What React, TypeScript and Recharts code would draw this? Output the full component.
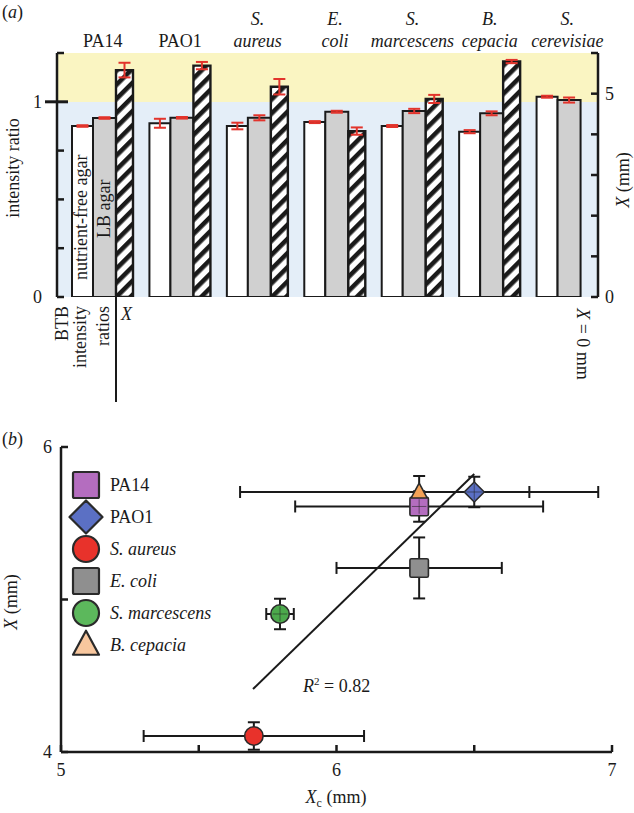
import React from 'react'
import {
  BarChart,
  Bar,
  XAxis,
  YAxis,
  ErrorBar,
  CartesianGrid,
  ScatterChart,
  Scatter,
  Legend,
} from 'recharts'

const FONT = '"Liberation Serif", "Times New Roman", serif'
const INK = '#1a1a1a'
const RED = '#e2342c'
const FS = 18

// ---- panel (a): BTB intensity ratios and X per organism
const groups = ['PA14', 'PAO1', 'S. aureus', 'E. coli', 'S. marcescens', 'B. cepacia', 'S. cerevisiae']
const groupLine1 = ['', '', 'S.', 'E.', 'S.', 'B.', 'S.']
const groupLine2 = ['PA14', 'PAO1', 'aureus', 'coli', 'marcescens', 'cepacia', 'cerevisiae']
const groupItalic = [false, false, true, true, true, true, true]

const nutrientFree = [0.876, 0.89, 0.876, 0.896, 0.876, 0.847, 1.026]
const nutrientFreeErr = [0.004, 0.023, 0.017, 0.005, 0.005, 0.008, 0.005]
const lbAgar = [0.917, 0.918, 0.918, 0.949, 0.953, 0.941, 1.009]
const lbAgarErr = [0.004, 0.004, 0.013, 0.005, 0.011, 0.01, 0.013]
const distX = [5.58, 5.69, 5.17, 4.08, 4.87, 5.79, 0]
const distXErr = [0.18, 0.09, 0.19, 0.09, 0.1, 0.04, 0]

const ratioTicks = [0, 0.25, 0.5, 0.75, 1, 1.25]
const ratioLabelled = [0, 1]
const mmTicks = [0, 1, 2, 3, 4, 5, 6]
const mmLabelled = [0, 5]
// band fills from the top: above ratio 1 is yellow, below is blue
const bandFills = ['#faf5c2', '#e4eef8', '#e4eef8', '#e4eef8', '#e4eef8']

const barData = groups.map((name, i) => ({
  name,
  nf: nutrientFree[i],
  nfErr: nutrientFreeErr[i],
  lb: lbAgar[i],
  lbErr: lbAgarErr[i],
  dist: distX[i],
  distErr: distXErr[i],
}))

// ---- panel (b): X against Xc
const species = ['PA14', 'PAO1', 'S. aureus', 'E. coli', 'S. marcescens', 'B. cepacia']
const speciesItalic = [false, false, true, true, true, true]
const xcValues = [6.3, 6.5, 5.7, 6.3, 5.795, 6.3]
const xcErr = [0.45, 0.2, 0.4, 0.3, 0.05, 0.65]
const xValues = [5.61, 5.705, 4.105, 5.207, 4.905, 5.705]
const xErr = [0.1, 0.1, 0.09, 0.2, 0.1, 0.105]
const fitXc = [5.697, 6.5]
const fitX = [4.413, 5.823]
const xcTicks = [5, 5.5, 6, 6.5, 7]
const xcLabelled = [5, 6, 7]
const xTicks = [4, 5, 6]
const xLabelled = [4, 6]

const markerKind = ['square', 'diamond', 'circle', 'square', 'circle', 'triangle']
const markerFill = ['#b46dbf', '#5b70c4', '#e8322b', '#8f8f8f', '#4ca94c', '#f4a257']
const legendFill = ['#b46dbf', '#5b70c4', '#e8322b', '#8f8f8f', '#5cb85c', '#f8c79e']
const markerCross = [true, true, false, false, true, false]

const pointData = species.map((name, i) => ({
  name,
  xc: xcValues[i],
  x: xValues[i],
  xcErr: xcErr[i],
  xErr: xErr[i],
}))
const fitData = fitXc.map((xc, i) => ({ xc, x: fitX[i] }))

const textStyle = { fontFamily: FONT, fontSize: FS, fill: INK }

function GroupTick({ x, y, payload }: any) {
  const i = groups.indexOf(payload.value)
  return (
    <g style={textStyle} fontStyle={groupItalic[i] ? 'italic' : 'normal'}>
      {groupLine1[i] && (
        <text x={x} y={y - 28} textAnchor="middle" fill={INK}>
          {groupLine1[i]}
        </text>
      )}
      <text x={x} y={y - 6} textAnchor="middle" fill={INK}>
        {groupLine2[i]}
      </text>
    </g>
  )
}

function RatioTick({ x, y, payload }: any) {
  const v = payload.value
  return (
    <g>
      {v === 1 ? (
        <line x1={x - 12} x2={x + 11} y1={y} y2={y} stroke={INK} strokeWidth={3} />
      ) : (
        <line x1={x} x2={x + 7} y1={y} y2={y} stroke={INK} strokeWidth={2.5} />
      )}
      {ratioLabelled.includes(v) && (
        <text x={x - 15} y={y + 6} textAnchor="end" style={textStyle}>
          {v}
        </text>
      )}
    </g>
  )
}

function MmTick({ x, y, payload }: any) {
  const v = payload.value
  return (
    <g>
      <line x1={x - 7} x2={x} y1={y} y2={y} stroke={INK} strokeWidth={2.5} />
      {mmLabelled.includes(v) && (
        <text x={x + 7} y={y + 6} textAnchor="start" style={textStyle}>
          {v}
        </text>
      )}
    </g>
  )
}

function XcTick({ x, y, payload }: any) {
  const v = payload.value
  return (
    <g>
      <line x1={x} x2={x} y1={y} y2={y - 7} stroke={INK} strokeWidth={2.5} />
      {xcLabelled.includes(v) && (
        <text x={x} y={y + 24} textAnchor="middle" style={textStyle}>
          {v}
        </text>
      )}
    </g>
  )
}

function XTick({ x, y, payload }: any) {
  const v = payload.value
  return (
    <g>
      <line x1={x} x2={x + 7} y1={y} y2={y} stroke={INK} strokeWidth={2.5} />
      {xLabelled.includes(v) && (
        <text x={x - 9} y={y + 6} textAnchor="end" style={textStyle}>
          {v}
        </text>
      )}
    </g>
  )
}

function Marker({ kind, cx, cy, fill, size, cross, sw = 1.6 }: any) {
  const h = size / 2
  let body
  if (kind === 'square') {
    body = <rect x={cx - h} y={cy - h} width={size} height={size} rx={1.5} fill={fill} stroke="#2a2a2a" strokeWidth={sw} />
  } else if (kind === 'circle') {
    body = <circle cx={cx} cy={cy} r={h} fill={fill} stroke="#2a2a2a" strokeWidth={sw} />
  } else if (kind === 'diamond') {
    body = (
      <polygon
        points={`${cx},${cy - h} ${cx + h},${cy} ${cx},${cy + h} ${cx - h},${cy}`}
        fill={fill}
        stroke="#2a2a2a"
        strokeWidth={sw}
        strokeLinejoin="round"
      />
    )
  } else {
    body = (
      <polygon
        points={`${cx},${cy - h * 1.1} ${cx + h},${cy + h * 0.75} ${cx - h},${cy + h * 0.75}`}
        fill={fill}
        stroke="#2a2a2a"
        strokeWidth={sw}
        strokeLinejoin="round"
      />
    )
  }
  return (
    <g>
      {body}
      {cross && (
        <g stroke="#222" strokeOpacity={0.55} strokeWidth={1}>
          <line x1={cx - h + 2} x2={cx + h - 2} y1={cy} y2={cy} />
          <line x1={cx} x2={cx} y1={cy - h + 2} y2={cy + h - 2} />
        </g>
      )}
    </g>
  )
}

function SpeciesLegend({ payload }: any) {
  const items = (payload || [])
    .filter((p: any) => species.includes(p.value))
    .sort((a: any, b: any) => species.indexOf(a.value) - species.indexOf(b.value))
  return (
    <div style={{ fontFamily: FONT, fontSize: FS, color: INK }}>
      {items.map((entry: any) => {
        const i = species.indexOf(entry.value)
        const big = markerKind[i] === 'diamond' ? 33 : 26
        return (
          <div key={entry.value} style={{ display: 'flex', alignItems: 'center', height: 32 }}>
            <svg width={36} height={36} style={{ overflow: 'visible' }}>
              <Marker kind={markerKind[i]} cx={18} cy={18} fill={legendFill[i]} size={big} sw={2.2} />
            </svg>
            <span style={{ marginLeft: 6, fontStyle: speciesItalic[i] ? 'italic' : 'normal', whiteSpace: 'nowrap' }}>
              {entry.value}
            </span>
          </div>
        )
      })}
    </div>
  )
}

export default function App() {
  return (
    <div style={{ position: 'relative', width: 634, height: 813, background: '#fff' }}>
      <style>{'body{margin:0}'}</style>

      <div style={{ position: 'absolute', left: 0, top: 0 }}>
        <BarChart
          width={634}
          height={410}
          data={barData}
          margin={{ top: 52, right: 35, bottom: 113, left: 56 }}
          barGap={0}
        >
          <defs>
            <pattern id="hatch" patternUnits="userSpaceOnUse" width="10" height="10" patternTransform="rotate(45)">
              <rect width="10" height="10" fill="#fff" />
              <rect width="4.6" height="10" fill={INK} />
            </pattern>
          </defs>
          <CartesianGrid
            yAxisId="ratio"
            vertical={false}
            stroke="none"
            horizontalFill={bandFills}
            fillOpacity={1}
          />
          <XAxis
            dataKey="name"
            orientation="top"
            height={1}
            interval={0}
            axisLine={false}
            tickLine={false}
            tickSize={0}
            tickMargin={0}
            padding={{ left: 7, right: -8 }}
            tick={<GroupTick />}
          />
          <YAxis
            yAxisId="ratio"
            domain={[0, 1.25]}
            ticks={ratioTicks}
            interval={0}
            width={1}
            tickSize={0}
            tickMargin={0}
            tickLine={false}
            axisLine={{ stroke: INK, strokeWidth: 2.5 }}
            tick={<RatioTick />}
            allowDataOverflow
          />
          <YAxis
            yAxisId="mm"
            orientation="right"
            domain={[0, 6]}
            ticks={mmTicks}
            interval={0}
            width={1}
            tickSize={0}
            tickMargin={0}
            tickLine={false}
            axisLine={{ stroke: INK, strokeWidth: 2.5 }}
            tick={<MmTick />}
            allowDataOverflow
          />
          <Bar yAxisId="ratio" dataKey="nf" barSize={21} fill="#fff" stroke={INK} strokeWidth={2} isAnimationActive={false}>
            <ErrorBar dataKey="nfErr" width={6} stroke={RED} strokeWidth={2} />
          </Bar>
          <Bar yAxisId="ratio" dataKey="lb" barSize={23} fill="#d0d0d0" stroke={INK} strokeWidth={2} isAnimationActive={false}>
            <ErrorBar dataKey="lbErr" width={6} stroke={RED} strokeWidth={2} />
          </Bar>
          <Bar yAxisId="mm" dataKey="dist" barSize={17} fill="url(#hatch)" stroke={INK} strokeWidth={2.4} isAnimationActive={false}>
            <ErrorBar dataKey="distErr" width={6} stroke={RED} strokeWidth={2} />
          </Bar>
        </BarChart>
      </div>

      <div style={{ position: 'absolute', left: 0, top: 410 }}>
        <ScatterChart width={634} height={403} margin={{ top: 37, right: 22, bottom: 60, left: 60 }}>
          <XAxis
            type="number"
            dataKey="xc"
            domain={[5, 7]}
            ticks={xcTicks}
            interval={0}
            height={1}
            tickSize={0}
            tickMargin={0}
            tickLine={false}
            axisLine={{ stroke: INK, strokeWidth: 2.5 }}
            tick={<XcTick />}
            allowDataOverflow
          />
          <YAxis
            type="number"
            dataKey="x"
            domain={[4, 6]}
            ticks={xTicks}
            interval={0}
            width={1}
            tickSize={0}
            tickMargin={0}
            tickLine={false}
            axisLine={{ stroke: INK, strokeWidth: 2.5 }}
            tick={<XTick />}
            allowDataOverflow
          />
          <Scatter
            name="fit"
            data={fitData}
            line={{ stroke: INK, strokeWidth: 2 }}
            shape={() => <g />}
            legendType="none"
            isAnimationActive={false}
          />
          {pointData.map((p, i) => (
            <Scatter
              key={p.name}
              name={p.name}
              data={[p]}
              fill={markerFill[i]}
              isAnimationActive={false}
              shape={(s: any) => (
                <Marker
                  kind={markerKind[i]}
                  cx={s.cx}
                  cy={s.cy}
                  fill={markerFill[i]}
                  size={markerKind[i] === 'triangle' ? 16 : markerKind[i] === 'diamond' ? 20 : 18.5}
                  cross={markerCross[i]}
                />
              )}
            >
              <ErrorBar dataKey="xcErr" direction="x" width={6} stroke={INK} strokeWidth={2} />
              <ErrorBar dataKey="xErr" direction="y" width={6} stroke={INK} strokeWidth={2} />
            </Scatter>
          ))}
          <Legend
            layout="horizontal"
            align="center"
            verticalAlign="middle"
            content={<SpeciesLegend />}
            wrapperStyle={{ left: 68, top: 59, width: 230, height: 200 }}
          />
        </ScatterChart>
      </div>

      <svg
        width={634}
        height={813}
        style={{ position: 'absolute', left: 0, top: 0, pointerEvents: 'none' }}
        fontFamily={FONT}
        fontSize={FS}
        fill={INK}
      >
        <text x={2} y={18}>
          (<tspan fontStyle="italic">a</tspan>)
        </text>
        <text transform="translate(19,168) rotate(-90)" textAnchor="middle">
          intensity ratio
        </text>
        <text transform="translate(629,180) rotate(-90)" textAnchor="middle">
          <tspan fontStyle="italic">X</tspan> (mm)
        </text>
        <text transform="translate(87,280) rotate(-90)" textAnchor="start">
          nutrient-free agar
        </text>
        <text transform="translate(110,238) rotate(-90)" textAnchor="start">
          LB agar
        </text>
        <text transform="translate(68,306) rotate(-90)" textAnchor="end">
          BTB
        </text>
        <text transform="translate(86,306) rotate(-90)" textAnchor="end">
          intensity
        </text>
        <text transform="translate(109,306) rotate(-90)" textAnchor="end">
          ratios
        </text>
        <line x1={116} x2={116} y1={297} y2={402} stroke={INK} strokeWidth={2} />
        <text x={121} y={320} fontStyle="italic">
          X
        </text>
        <text transform="translate(577,344) rotate(90)" textAnchor="middle">
          <tspan fontStyle="italic">X</tspan> = 0 mm
        </text>

        <text x={2} y={445}>
          (<tspan fontStyle="italic">b</tspan>)
        </text>
        <text transform="translate(17,602) rotate(-90)" textAnchor="middle">
          <tspan fontStyle="italic">X</tspan> (mm)
        </text>
        <text x={336} y={803} textAnchor="middle">
          <tspan fontStyle="italic">X</tspan>
          <tspan fontSize={12} dy={4}>c</tspan>
          <tspan dy={-4}> (mm)</tspan>
        </text>
        <text x={303} y={692}>
          <tspan fontStyle="italic">R</tspan>
          <tspan fontSize={11} dy={-7}>2</tspan>
          <tspan dy={7}> = 0.82</tspan>
        </text>
      </svg>
    </div>
  )
}
